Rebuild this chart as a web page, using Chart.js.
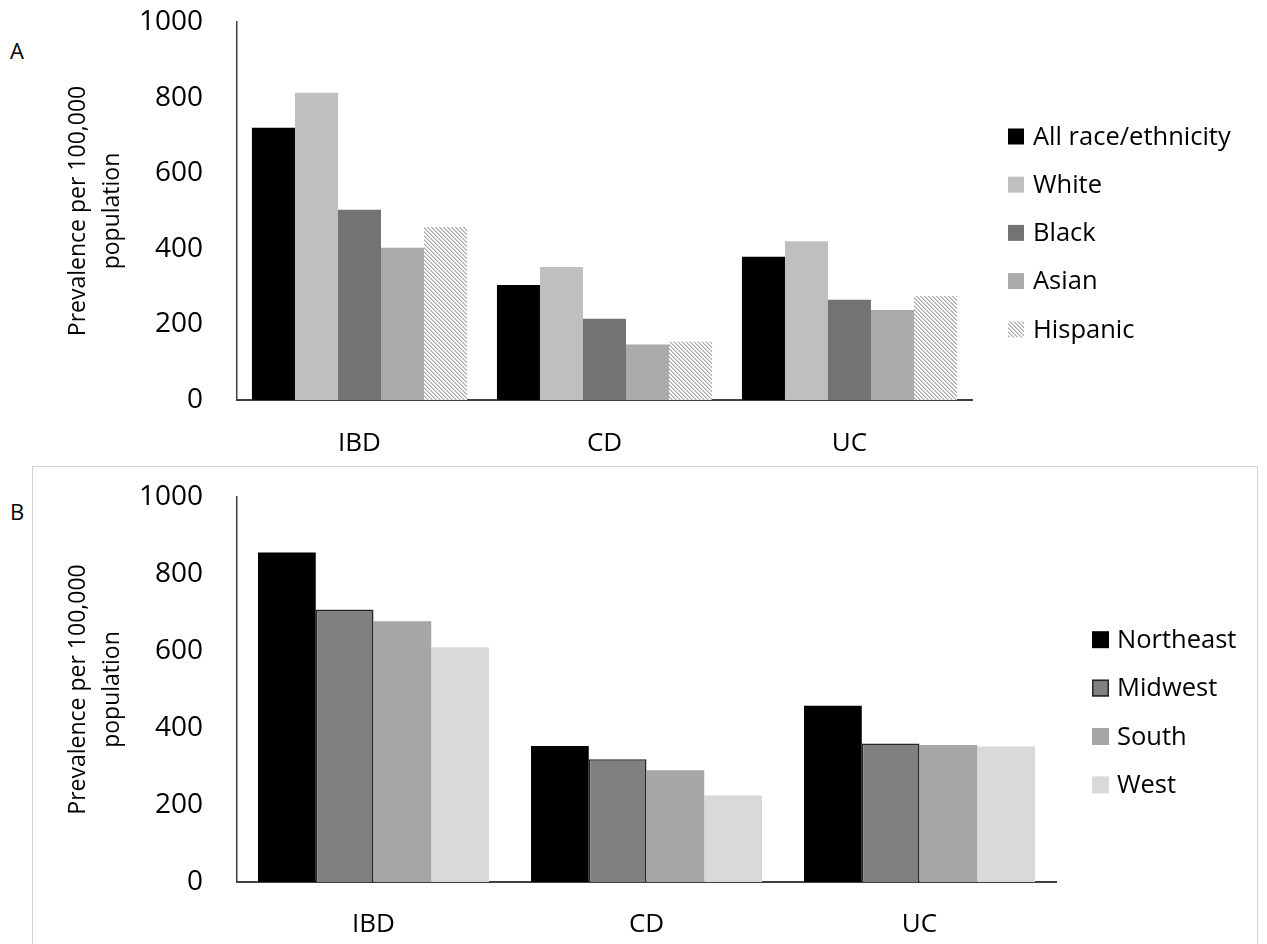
<!DOCTYPE html>
<html>
<head>
<meta charset="utf-8">
<script src="https://cdn.jsdelivr.net/npm/chart.js@4/dist/chart.umd.min.js"></script>
<style>
  html, body { margin: 0; padding: 0; background: #fff; }
  body { width: 1267px; height: 944px; position: relative; overflow: hidden; font-family: "Open Sans", sans-serif; }
  .panel-letter { position: absolute; left: 10px; font-size: 22px; line-height: 22px; color: #000; }
  #frameB { position: absolute; left: 32px; top: 466px; width: 1226px; height: 500px; border: 1px solid #d4d4d4; box-sizing: border-box; }
  .wrap { position: absolute; left: 0; width: 1267px; }
  #wrapA { top: 0; height: 466px; }
  #wrapB { top: 466px; height: 478px; }
  canvas { display: block; }
</style>
</head>
<body>
<div id="frameB"></div>
<div class="panel-letter" style="top:39px">A</div>
<div class="panel-letter" style="top:500px">B</div>
<div class="wrap" id="wrapA"><canvas id="chartA" width="1267" height="466"></canvas></div>
<div class="wrap" id="wrapB"><canvas id="chartB" width="1267" height="478"></canvas></div>
<script>
// Prevalence per 100,000 population
const categories = ['IBD', 'CD', 'UC'];
const yTicks = [0, 200, 400, 600, 800, 1000];

// Panel A: by race/ethnicity
const raceLabels = ['All race/ethnicity', 'White', 'Black', 'Asian', 'Hispanic'];
const allRace  = [720, 304, 379];
const white    = [813, 352, 420];
const black    = [503, 215, 265];
const asian    = [403, 147, 238];
const hispanic = [458, 154, 275];

// Panel B: by US region
const regionLabels = ['Northeast', 'Midwest', 'South', 'West'];
const northeast = [856, 353, 458];
const midwest   = [708, 319, 360];
const south     = [677, 290, 356];
const west      = [610, 225, 352];

const FONT = '"Open Sans", sans-serif';
Chart.defaults.font.family = FONT;
Chart.defaults.color = '#000';

// diagonal hatch fill for the Hispanic series
function makeHatch() {
  const tile = document.createElement('canvas');
  tile.width = 4; tile.height = 4;
  const g = tile.getContext('2d');
  const img = g.createImageData(4, 4);
  for (let y = 0; y < 4; y++) {
    for (let x = 0; x < 4; x++) {
      const d = (((x - y) % 4) + 4) % 4;
      const v = d === 0 ? 170 : (d === 1 ? 205 : 255);
      const i = (y * 4 + x) * 4;
      img.data[i] = v; img.data[i + 1] = v; img.data[i + 2] = v; img.data[i + 3] = 255;
    }
  }
  g.putImageData(img, 0, 0);
  return document.getElementById('chartA').getContext('2d').createPattern(tile, 'repeat');
}

// legend drawn as a vertical list of square swatches to the right of the plot
const boxLegend = {
  id: 'boxLegend',
  afterDraw(chart, args, opts) {
    const ctx = chart.ctx;
    ctx.save();
    ctx.font = opts.size + 'px ' + FONT;
    ctx.textBaseline = 'middle';
    ctx.textAlign = 'left';
    chart.data.datasets.forEach((ds, i) => {
      const cy = opts.y + i * opts.step;
      const top = cy - opts.box / 2;
      ctx.fillStyle = ds.backgroundColor;
      ctx.fillRect(opts.x, top, opts.box, opts.box);
      if (ds.borderWidth) {
        ctx.lineWidth = ds.borderWidth;
        ctx.strokeStyle = ds.borderColor;
        ctx.strokeRect(opts.x + 0.75, top + 0.75, opts.box - 1.5, opts.box - 1.5);
      }
      ctx.fillStyle = '#000';
      ctx.fillText(ds.label, opts.x + opts.box + opts.gap, cy + 1);
    });
    ctx.restore();
  }
};

function scales(xHeight, xPad) {
  return {
    x: {
      grid: { display: false, drawTicks: false },
      border: { display: true, color: '#404040', width: 2 },
      ticks: { font: { size: 26 }, color: '#000', padding: xPad },
      afterFit: s => { s.height = xHeight; }
    },
    y: {
      min: 0, max: 1000,
      afterBuildTicks: s => { s.ticks = yTicks.map(v => ({ value: v })); },
      // invisible tick marks keep the gap between labels and the axis line
      grid: { display: false, drawTicks: true, tickLength: 34 },
      border: { display: true, color: '#404040', width: 1.5 },
      ticks: { font: { size: 28 }, color: '#000', padding: 0, callback: v => String(v) },
      title: {
        display: true,
        text: ['Prevalence per 100,000', 'population'],
        font: { size: 23, lineHeight: 1.48 },
        color: '#000',
        padding: { top: 61, bottom: 0 }
      },
      afterFit: s => { s.width = 237; }
    }
  };
}

function series(label, data, color, pct, extra) {
  return Object.assign({
    label, data, backgroundColor: color,
    borderWidth: 0, barPercentage: 1, categoryPercentage: pct
  }, extra || {});
}

const pctA = 0.878;
new Chart(document.getElementById('chartA'), {
  type: 'bar',
  data: {
    labels: categories,
    datasets: [
      series(raceLabels[0], allRace, '#000000', pctA),
      series(raceLabels[1], white, '#bfbfbf', pctA),
      series(raceLabels[2], black, '#737373', pctA),
      series(raceLabels[3], asian, '#ababab', pctA),
      series(raceLabels[4], hispanic, makeHatch(), pctA)
    ]
  },
  options: {
    responsive: false,
    animation: false,
    devicePixelRatio: 1,
    layout: { padding: { top: 22, right: 295, left: 0, bottom: 0 } },
    scales: scales(66, 28),
    plugins: {
      legend: { display: false },
      tooltip: { enabled: false },
      boxLegend: { x: 1008, y: 136.5, step: 48.2, box: 16, gap: 9, size: 25.5 }
    }
  },
  plugins: [boxLegend]
});

const pctB = 0.846;
new Chart(document.getElementById('chartB'), {
  type: 'bar',
  data: {
    labels: categories,
    datasets: [
      series(regionLabels[0], northeast, '#000000', pctB),
      series(regionLabels[1], midwest, '#808080', pctB, { borderWidth: 1.5, borderColor: '#262626' }),
      series(regionLabels[2], south, '#a6a6a6', pctB),
      series(regionLabels[3], west, '#d9d9d9', pctB)
    ]
  },
  options: {
    responsive: false,
    animation: false,
    devicePixelRatio: 1,
    layout: { padding: { top: 31, right: 211, left: 0, bottom: 0 } },
    scales: scales(62, 27),
    plugins: {
      legend: { display: false },
      tooltip: { enabled: false },
      boxLegend: { x: 1092, y: 173.7, step: 48.4, box: 17, gap: 8, size: 25.5 }
    }
  },
  plugins: [boxLegend]
});
</script>
</body>
</html>
